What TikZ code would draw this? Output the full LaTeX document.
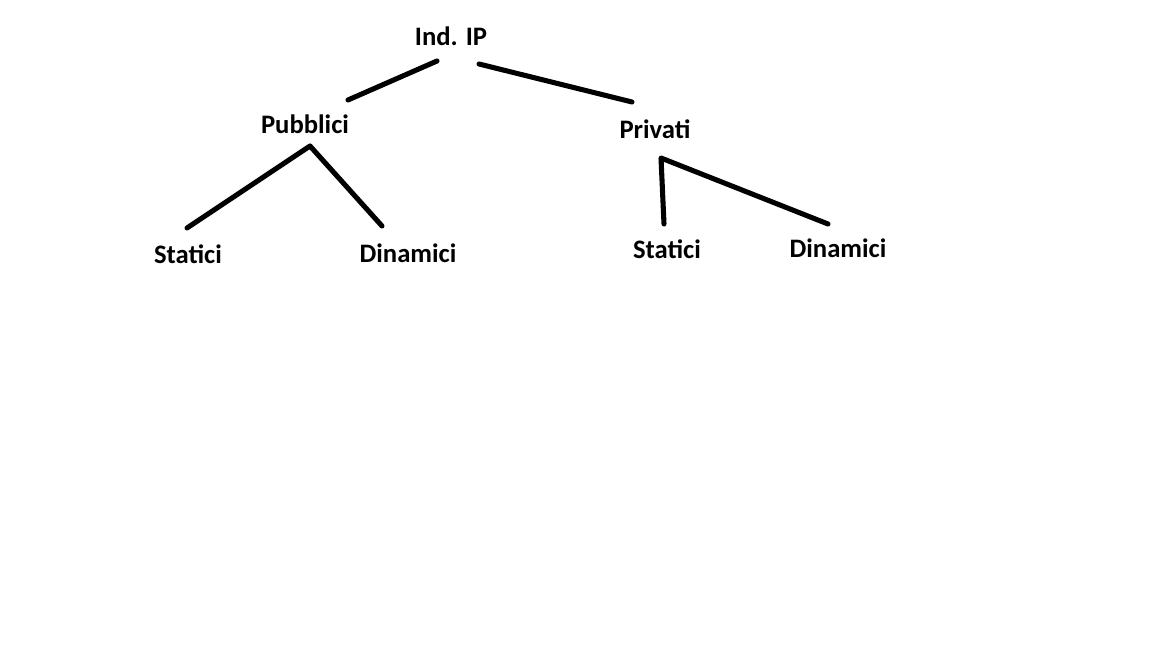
\documentclass[tikz,border=0pt]{standalone}
\usepackage{fontspec}
\setmainfont{Carlito}
\tikzset{
  lbl/.style={anchor=base, inner sep=0pt, font=\fontsize{20}{24}\selectfont\bfseries},
  edge/.style={line width=3.8pt, line cap=round, line join=round, black}
}
\begin{document}
\begin{tikzpicture}[x=0.75pt,y=-0.75pt]
\useasboundingbox[fill=white] (0,0) rectangle (1152,648);
\node[lbl] (ip) at (451,46) {Ind. IP};
\node[lbl] (pub) at (305,134) {Pubblici};
\node[lbl] (priv) at (655,139) {Privati};
\node[lbl] (s1) at (188,264) {Statici};
\node[lbl] (d1) at (408,263) {Dinamici};
\node[lbl] (s2) at (667,259) {Statici};
\node[lbl] (d2) at (838,258) {Dinamici};
\coordinate (ipL) at (437,61);
\coordinate (ipR) at (479,64);
\coordinate (pubT) at (348,100);
\coordinate (privT) at (632,102);
\coordinate (pubB) at (310,146);
\coordinate (s1T) at (187,228);
\coordinate (d1T) at (382,226);
\coordinate (privB) at (661,158);
\coordinate (s2T) at (664,224);
\coordinate (d2T) at (828,224);
\draw[edge] (ipL) -- (pubT);
\draw[edge] (ipR) -- (privT);
\draw[edge] (s1T) -- (pubB) -- (d1T);
\draw[edge] (s2T) -- (privB) -- (d2T);
\end{tikzpicture}
\end{document}
